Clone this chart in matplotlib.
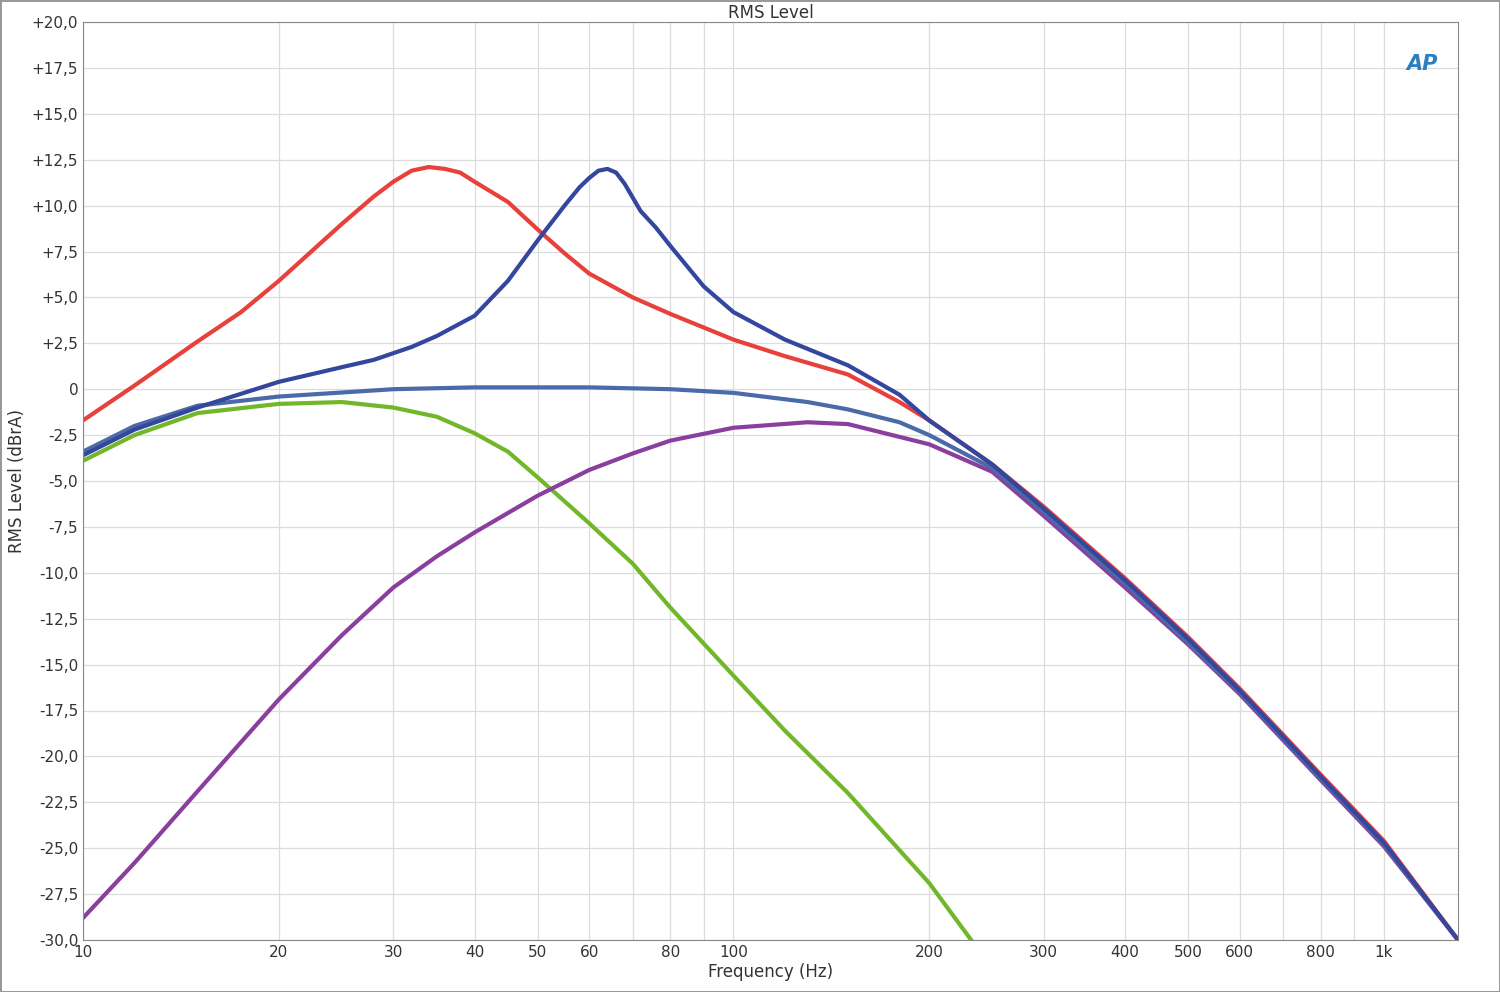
import matplotlib
matplotlib.use("Agg")
import matplotlib.pyplot as plt
from matplotlib.ticker import FixedLocator, NullFormatter
import numpy as np

red_f = [10,12,15,17.5,20,25,28,30,32,34,36,38,40,45,50,55,60,70,80,100,120,150,180,200,250,300,400,500,600,800,1000,1300]
red_db = [-1.7,0.2,2.6,4.2,5.9,9.0,10.5,11.3,11.9,12.1,12.0,11.8,11.3,10.2,8.7,7.4,6.3,5.0,4.1,2.7,1.8,0.8,-0.7,-1.7,-4.1,-6.4,-10.3,-13.5,-16.3,-21.0,-24.6,-30.0]
blue_f = [10,12,15,20,25,28,32,35,40,45,50,55,58,60,62,64,66,68,72,76,80,90,100,120,150,180,200,250,300,400,500,600,800,1000,1300]
blue_db = [-3.6,-2.2,-1.0,0.4,1.2,1.6,2.3,2.9,4.0,5.9,8.1,10.0,11.0,11.5,11.9,12.0,11.8,11.2,9.7,8.8,7.8,5.6,4.2,2.7,1.3,-0.3,-1.7,-4.1,-6.5,-10.4,-13.6,-16.4,-21.1,-24.7,-30.0]
flat_f = [10,12,15,20,30,40,60,80,100,130,150,180,200,250,300,400,500,600,800,1000,1300]
flat_db = [-3.4,-2.0,-0.9,-0.4,0.0,0.1,0.1,0.0,-0.2,-0.7,-1.1,-1.8,-2.5,-4.3,-6.7,-10.6,-13.8,-16.5,-21.2,-24.8,-30.0]
green_f = [10,12,15,20,25,30,35,40,45,50,60,70,80,100,120,150,200,232]
green_db = [-3.9,-2.5,-1.3,-0.8,-0.7,-1.0,-1.5,-2.4,-3.4,-4.8,-7.3,-9.5,-11.9,-15.6,-18.6,-22.0,-26.9,-30.0]
purple_f = [10,12,15,20,25,30,35,40,50,60,70,80,100,130,150,200,250,300,400,500,600,800,1000,1300]
purple_db = [-28.8,-25.8,-21.9,-16.9,-13.4,-10.8,-9.1,-7.8,-5.8,-4.4,-3.5,-2.8,-2.1,-1.8,-1.9,-3.0,-4.5,-6.9,-10.8,-13.9,-16.6,-21.3,-24.9,-30.0]

xticks = [10,20,30,40,50,60,80,100,200,300,400,500,600,800,1000]
xlabels = ["10","20","30","40","50","60","80","100","200","300","400","500","600","800","1k"]
yticks = np.arange(-30, 20.1, 2.5)

fig = plt.figure(figsize=(15, 9.92), dpi=100)
fig.patch.set_edgecolor("#999999"); fig.patch.set_linewidth(2)
ax = fig.add_axes([83/1500, 1-940/992, (1458-83)/1500, (940-22)/992])
ax.set_xscale("log")
ax.set_xlim(10, 1300); ax.set_ylim(-30, 20)

minor = [m*10**e for e in (1,2,3) for m in range(1,10) if 10 <= m*10**e <= 1300]
ax.xaxis.set_major_locator(FixedLocator(xticks))
ax.xaxis.set_minor_locator(FixedLocator(minor))
ax.xaxis.set_minor_formatter(NullFormatter())
ax.set_xticklabels(xlabels)
ax.set_yticks(yticks)
ax.set_yticklabels(["0" if v == 0 else ("%+.1f" % v).replace(".", ",") for v in yticks])
ax.grid(True, which="both", color="#dcdcdc", linewidth=0.9)
ax.tick_params(which="both", length=0, labelsize=11, colors="#333333")
for s in ax.spines.values():
    s.set_color("#888888")

ax.plot(green_f, green_db, color="#72b62a", lw=3)
ax.plot(purple_f, purple_db, color="#8a3f9e", lw=3)
ax.plot(flat_f, flat_db, color="#4a6aa8", lw=3)
ax.plot(red_f, red_db, color="#e8403a", lw=3)
ax.plot(blue_f, blue_db, color="#34479e", lw=3)

ax.set_title("RMS Level", fontsize=12, pad=2, color="#333333")
ax.set_xlabel("Frequency (Hz)", fontsize=12, labelpad=2, color="#333333")
ax.set_ylabel("RMS Level (dBrA)", fontsize=12, labelpad=4, color="#333333")
ax.text(0.985, 0.965, "AP", transform=ax.transAxes, ha="right", va="top",
        fontsize=15, fontstyle="italic", fontweight="bold", color="#2a7fc0")
fig.savefig("out.png", dpi=100)
